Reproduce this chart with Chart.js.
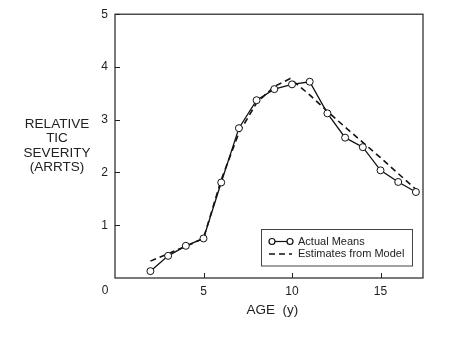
<!DOCTYPE html>
<html>
<head>
<meta charset="utf-8">
<script src="https://cdn.jsdelivr.net/npm/chart.js@4.4.1/dist/chart.umd.min.js"></script>
<style>
  body { margin: 0; background: #fff; }
  #wrap { width: 452px; height: 340px; position: relative; }
</style>
</head>
<body>
<div id="wrap"><canvas id="ticChart"></canvas></div>
<script>
const ages = [2,3,4,5,6,7,8,9,10,11,12,13,14,15,16,17];
const actualMeans = [0.13,0.42,0.61,0.75,1.81,2.84,3.37,3.58,3.67,3.72,3.12,2.66,2.48,2.04,1.82,1.63];
const modelAges = [2,3,4,5,6,7,8,9,9.9,11,12,13,14,15,16,17];
const modelEstimates = [0.32,0.46,0.60,0.75,1.86,2.75,3.32,3.63,3.78,3.47,3.16,2.86,2.57,2.28,1.98,1.68];
const xTicks = [5,10,15];
const yTicks = [1,2,3,4,5];
const yTitleLines = ["RELATIVE","TIC","SEVERITY","(ARRTS)"];

const FONT = "'Liberation Sans', Arial, sans-serif";

const framePlugin = {
    id: "frame",
    afterDraw(chart) {
        const ctx = chart.ctx;
        const a = chart.chartArea;
        const xs = chart.scales.x;
        const ys = chart.scales.y;
        ctx.save();
        ctx.strokeStyle = "#222";
        ctx.lineWidth = 1.2;
        ctx.strokeRect(a.left, a.top, a.right - a.left, a.bottom - a.top);

        // inward tick marks
        ctx.lineWidth = 1;
        xTicks.forEach(v => {
            const px = Math.round(xs.getPixelForValue(v)) + 0.5;
            ctx.beginPath();
            ctx.moveTo(px, a.bottom);
            ctx.lineTo(px, a.bottom - 5);
            ctx.stroke();
        });
        yTicks.forEach(v => {
            const py = Math.round(ys.getPixelForValue(v)) + 0.5;
            ctx.beginPath();
            ctx.moveTo(a.left, py);
            ctx.lineTo(a.left + 5, py);
            ctx.stroke();
        });

        // origin label
        ctx.fillStyle = "#222";
        ctx.font = "12px " + FONT;
        ctx.textAlign = "center";
        ctx.textBaseline = "middle";
        ctx.fillText("0", 105, 291);

        // horizontal y title
        ctx.font = "13.5px " + FONT;
        yTitleLines.forEach((t, i) => {
            ctx.fillText(t, 57, 124 + i * 14.5);
        });

        // legend box
        const bx = a.right - 162, by = a.bottom - 49, bw = 151, bh = 36.5;
        ctx.fillStyle = "#fff";
        ctx.fillRect(bx, by, bw, bh);
        ctx.strokeStyle = "#444";
        ctx.lineWidth = 1;
        ctx.strokeRect(bx + 0.5, by + 0.5, bw, bh);
        const ds = chart.data.datasets;
        const r1 = by + 12.5, r2 = by + 25;
        ctx.strokeStyle = "#111";
        ctx.lineWidth = 1.2;
        ctx.beginPath();
        ctx.moveTo(bx + 11, r1);
        ctx.lineTo(bx + 29, r1);
        ctx.stroke();
        [bx + 11, bx + 29].forEach(cx => {
            ctx.beginPath();
            ctx.arc(cx, r1, 3, 0, Math.PI * 2);
            ctx.fillStyle = "#fff";
            ctx.fill();
            ctx.stroke();
        });
        ctx.lineWidth = 1.6;
        ctx.setLineDash([6, 4]);
        ctx.beginPath();
        ctx.moveTo(bx + 8, r2);
        ctx.lineTo(bx + 31, r2);
        ctx.stroke();
        ctx.setLineDash([]);
        ctx.fillStyle = "#222";
        ctx.font = "11px " + FONT;
        ctx.textAlign = "left";
        ctx.fillText(ds[0].label, bx + 37, r1);
        ctx.fillText(ds[1].label, bx + 37, r2);
        ctx.restore();
    }
};

new Chart(document.getElementById("ticChart"), {
    type: "scatter",
    data: {
        datasets: [
            {
                label: "Actual Means",
                data: ages.map((a, i) => ({x: a, y: actualMeans[i]})),
                showLine: true,
                borderColor: "#111",
                borderWidth: 1.3,
                pointRadius: 3.5,
                pointBackgroundColor: "#fff",
                pointBorderColor: "#111",
                pointBorderWidth: 1,
                order: 1
            },
            {
                label: "Estimates from Model",
                data: modelAges.map((a, i) => ({x: a, y: modelEstimates[i]})),
                showLine: true,
                borderColor: "#111",
                borderWidth: 1.6,
                borderDash: [6, 4],
                pointRadius: 0,
                order: 2
            }
        ]
    },
    options: {
        responsive: true,
        maintainAspectRatio: false,
        animation: false,
        layout: { padding: { top: 14, right: 29, left: 0, bottom: 0 } },
        plugins: {
            legend: { display: false },
            tooltip: { enabled: false }
        },
        scales: {
            x: {
                type: "linear",
                min: 0,
                max: 17.4,
                afterFit(s) { s.height = 62; },
                afterBuildTicks(s) { s.ticks = xTicks.map(v => ({value: v})); },
                grid: { display: false, drawTicks: false },
                border: { display: false },
                ticks: {
                    color: "#222",
                    font: { family: FONT, size: 12 },
                    padding: 6,
                    maxRotation: 0
                },
                title: {
                    display: true,
                    text: "\u2002AGE  (y)",
                    color: "#222",
                    font: { family: FONT, size: 13.5 },
                    padding: { top: 0, bottom: 22 }
                }
            },
            y: {
                min: 0,
                max: 5,
                afterFit(s) { s.width = 115; },
                afterBuildTicks(s) { s.ticks = yTicks.map(v => ({value: v})); },
                grid: { display: false, drawTicks: false },
                border: { display: false },
                ticks: {
                    color: "#222",
                    font: { family: FONT, size: 12 },
                    padding: 7
                }
            }
        }
    },
    plugins: [framePlugin]
});
</script>
</body>
</html>
